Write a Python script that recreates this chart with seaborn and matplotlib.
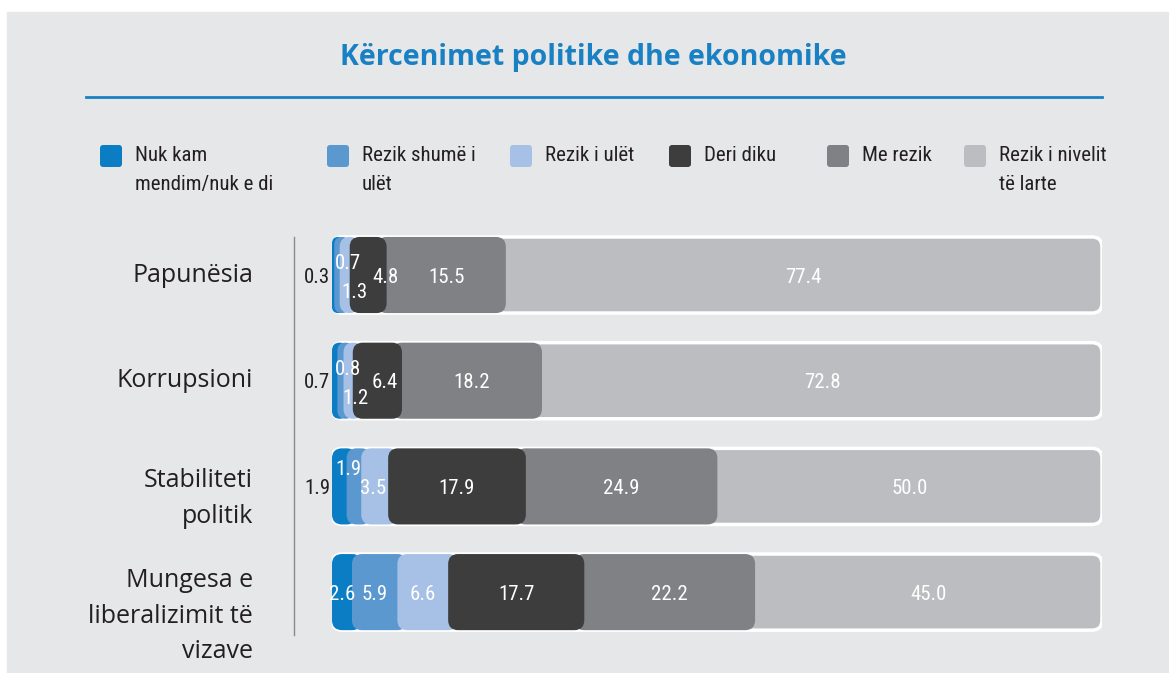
import numpy as np
import pandas as pd
import matplotlib.pyplot as plt
import seaborn as sns
from matplotlib import font_manager
from matplotlib.patches import FancyBboxPatch, Rectangle
from matplotlib.lines import Line2D

# data
categories = ['Papunësia', 'Korrupsioni', 'Stabiliteti\npolitik',
              'Mungesa e\nliberalizimit të\nvizave']
segment_labels = ['Nuk kam\nmendim/nuk e di', 'Rezik shumë i\nulët', 'Rezik i ulët',
                  'Deri diku', 'Me rezik', 'Rezik i nivelit\ntë larte']
nuk_kam = [0.3, 0.7, 1.9, 2.6]
shume_ulet = [0.7, 0.8, 1.9, 5.9]
ulet = [1.3, 1.2, 3.5, 6.6]
deri_diku = [4.8, 6.4, 17.9, 17.7]
me_rezik = [15.5, 18.2, 24.9, 22.2]
larte = [77.4, 72.8, 50.0, 45.0]
title = 'Kërcenimet politike dhe ekonomike'

colors = ['#0b7dc4', '#5b98d0', '#a6c1e5', '#3d3d3e', '#808184', '#bcbdc0']
blue = '#1a80c4'
bg = '#e6e7e8'

# pick a narrow font if one is installed
names = {f.name for f in font_manager.fontManager.ttflist}
narrow = None
for cand in ['Liberation Sans Narrow', 'Roboto Condensed', 'Open Sans Condensed',
             'Noto Sans Condensed', 'DejaVu Sans Condensed']:
    if cand in names:
        narrow = cand
        break
if narrow:
    small = dict(family=narrow, fontsize=15)
else:
    small = dict(family='DejaVu Sans', fontstretch='condensed', fontsize=13)

W, H = 1169, 673
fig = plt.figure(figsize=(W / 100, H / 100), dpi=100)
fig.patch.set_facecolor('white')

# pixel-space overlay for panel, title, legend, category labels
pax = fig.add_axes([0, 0, 1, 1], zorder=0)
pax.set_xlim(0, W)
pax.set_ylim(H, 0)
pax.axis('off')
pax.add_patch(Rectangle((7, 12), W - 7, H - 12, color=bg, zorder=0))
pax.text(593, 57, title, ha='center', va='center', color=blue,
         fontsize=20.5, fontweight='bold', family='Open Sans')
pax.add_line(Line2D([86, 1102], [97, 97], color=blue, lw=2))
pax.add_line(Line2D([294, 294], [237, 635], color='#8a8a8c', lw=1))

# legend
leg_x = [100, 327, 510, 669, 827, 964]
for lx, lab, c in zip(leg_x, segment_labels, colors):
    pax.add_patch(FancyBboxPatch((lx, 145), 22, 22, boxstyle='round,pad=0,rounding_size=3',
                                 fc=c, ec='none'))
    pax.text(lx + 35, 146, lab, ha='left', va='top', color='#231f20',
             linespacing=1.65, **small)

# bars
vals = np.array([nuk_kam, shume_ulet, ulet, deri_diku, me_rezik, larte])
ends = vals.cumsum(axis=0)
starts = ends - vals
xmax = ends[-1].max()

x0, x1 = 332, 1102
yc0, step = 275, 105.7
ax = fig.add_axes([x0 / W, 1 - (yc0 + 3.5 * step) / H, (x1 - x0) / W, 4 * step / H], zorder=1)
ax.set_facecolor('none')

bw = 0.72
r = 1.3
m_aspect = ((x1 - x0) / xmax) / step
order = [5, 4, 0, 1, 2, 3]  # drawing order (dark segment on top)
for z, i in enumerate(order):
    df = pd.DataFrame({'cat': categories, 'end': ends[i]})
    n_before = len(ax.patches)
    sns.barplot(data=df, x='end', y='cat', orient='h', color=colors[i], width=bw,
                ax=ax, saturation=1)
    new = ax.patches[n_before:]
    for j, p in enumerate(list(new)):
        y, h = p.get_y(), p.get_height()
        p.remove()
        if i == 5:
            a, b = 0, xmax
            ec, lw = 'white', 2.5
        elif i == 4:
            a, b = starts[i][j] - r, ends[i][j]
            ec, lw = 'none', 0
        elif i == 3:
            a, b = starts[i][j], ends[i][j]
            ec, lw = 'none', 0
        else:
            a, b = starts[i][j], min(ends[i][j] + r, xmax)
            ec, lw = 'none', 0
        rs = min(r, (b - a) / 2)
        ax.add_patch(FancyBboxPatch((a, y), b - a, h,
                                    boxstyle=f'round,pad=0,rounding_size={rs}',
                                    mutation_aspect=m_aspect, fc=colors[i], ec=ec, lw=lw,
                                    zorder=2 + z))

ax.set_xlim(0, xmax)
ax.set_ylim(3.5, -0.5)
ax.axis('off')

# value labels (small tweaks for the crowded tiny segments)
tweaks = {(0, 1): (1.4, -0.11), (0, 2): (1.3, 0.17), (0, 3): (2.3, 0.02),
          (1, 1): (1.0, -0.11), (1, 2): (0.9, 0.17), (1, 3): (1.0, 0.02),
          (2, 1): (-0.75, -0.16), (2, 2): (-0.2, 0.02)}
for j in range(len(categories)):
    for i in range(6):
        v = vals[i][j]
        if i == 0 and v < 2:
            ax.text(-0.2, j + 0.02, f'{v:.1f}', ha='right', va='center',
                    color='#231f20', zorder=20, **small)
            continue
        dx, dy = tweaks.get((j, i), (0, 0.02))
        ax.text((starts[i][j] + ends[i][j]) / 2 + dx, j + dy, f'{v:.1f}', ha='center',
                va='center', color='white', zorder=20, **small)

# category labels
for j, cat in enumerate(categories):
    n = cat.count('\n')
    pax.text(253, yc0 + j * step + n * 12, cat, ha='right', va='center', fontsize=18,
             family='Open Sans', color='#231f20', linespacing=1.55)

fig.savefig('out.png', dpi=100)
